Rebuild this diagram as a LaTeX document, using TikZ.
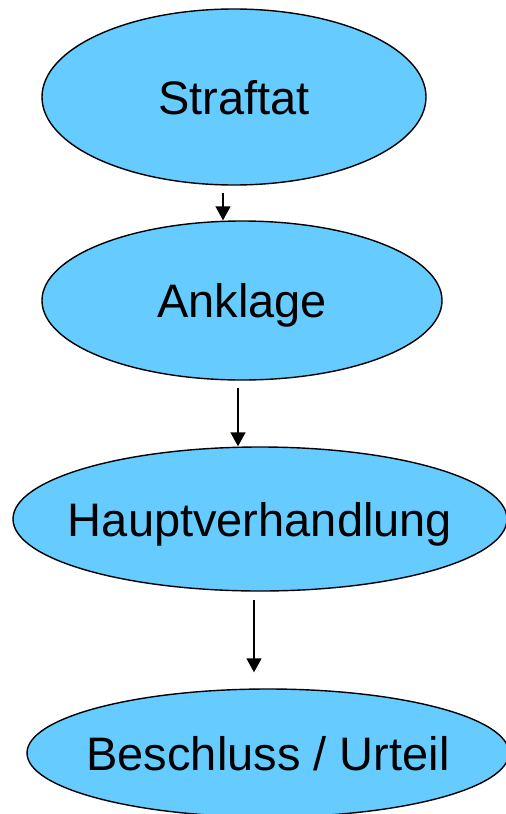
\documentclass[tikz,border=0pt]{standalone}
\usepackage{fontspec}
\setmainfont{Liberation Sans}
\usetikzlibrary{shapes.geometric,arrows.meta}
\definecolor{stagefill}{HTML}{66CCFF}
% label of zero width, so that the ellipse keeps its given size
\newcommand{\stagelabel}[1]{\makebox[0pt]{#1}}
\begin{document}
\begin{tikzpicture}[x=1pt,y=1pt,
  stage/.style={ellipse,draw=black,line width=1.4pt,fill=stagefill,inner sep=0pt,
    font=\fontsize{47}{50}\selectfont,text height=34pt,text depth=0pt},
  flow/.style={-{Triangle[width=15pt,length=14pt]},line width=1.4pt,black}]
  \useasboundingbox (0,0) rectangle (506,-814);
  % process stages
  \node[stage,minimum width=384pt,minimum height=176pt] (straftat) at (234,-97) {\stagelabel{Straftat}};
  \node[stage,minimum width=400pt,minimum height=159pt] (anklage) at (242,-300.5) {\stagelabel{Anklage}};
  \node[stage,minimum width=494pt,minimum height=144pt] (haupt) at (260,-519) {\stagelabel{Hauptverhandlung}};
  \node[stage,minimum width=482pt,minimum height=128pt] (urteil) at (268,-753) {\stagelabel{Beschluss / Urteil}};
  % connectors between the stages
  \draw[flow] ([xshift=-11pt,yshift=-7pt]straftat.south) -- ([xshift=-19pt,yshift=0pt]anklage.north);
  \draw[flow] ([xshift=-4pt,yshift=-7pt]anklage.south) -- ([xshift=-22pt,yshift=0pt]haupt.north);
  \draw[flow] ([xshift=-6pt,yshift=-8pt]haupt.south) -- ([xshift=-14pt,yshift=16pt]urteil.north);
\end{tikzpicture}
\end{document}
